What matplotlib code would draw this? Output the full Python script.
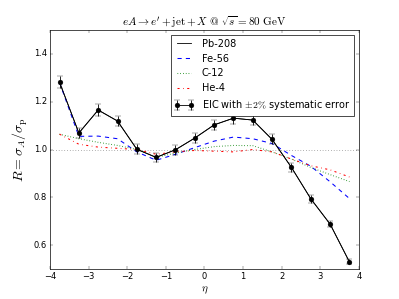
import numpy as np
import matplotlib
matplotlib.use('Agg')
import matplotlib.pyplot as plt

plt.style.use('classic')

# eta bin centres
eta = np.array([-3.75, -3.25, -2.75, -2.25, -1.75, -1.25, -0.75, -0.25,
                0.25, 0.75, 1.25, 1.75, 2.25, 2.75, 3.25, 3.75])

# nuclear modification ratios
pb208 = np.array([1.281, 1.069, 1.165, 1.119, 1.001, 0.967, 0.999, 1.048,
                  1.103, 1.131, 1.123, 1.042, 0.925, 0.794, 0.688, 0.530])
fe56 = np.array([1.28, 1.055, 1.056, 1.045, 0.99, 0.955, 0.98, 1.008,
                 1.035, 1.052, 1.045, 1.025, 0.975, 0.93, 0.865, 0.795])
c12 = np.array([1.064, 1.045, 1.03, 1.017, 1.0, 0.967, 0.985, 1.0,
                1.012, 1.017, 1.016, 0.99, 0.96, 0.925, 0.895, 0.866])
he4 = np.array([1.064, 1.022, 1.01, 1.005, 1.0, 0.98, 0.99, 0.996,
                0.993, 0.99, 1.0, 0.99, 0.96, 0.932, 0.915, 0.885])
sys_err = 0.02

fig = plt.figure(figsize=(7.98, 5.98))
ax = fig.add_subplot(111)

ax.axhline(1.0, color='gray', linestyle=':', linewidth=1.2)
ax.plot(eta, pb208, 'k-', linewidth=1.2, label='Pb-208')
ax.plot(eta, fe56, 'b--', linewidth=1.5, label='Fe-56')
ax.plot(eta, c12, 'g:', linewidth=1.5, label='C-12')
ax.plot(eta, he4, 'r-.', linewidth=1.5, label='He-4')
ax.errorbar(eta, pb208, yerr=sys_err * pb208, fmt='ko-', markersize=7,
            linewidth=1.2, capsize=4, label=r'EIC with $\pm2\%$ systematic error')

ax.set_xlim(-4, 4)
ax.set_ylim(0.5, 1.5)
ax.set_yticks([0.6, 0.8, 1.0, 1.2, 1.4])
ax.set_xlabel(r'$\eta$', fontsize=16)
ax.set_ylabel(r'$R=\sigma_A/\sigma_{\rm p}$', fontsize=20)
ax.set_title(r'$eA\rightarrow e^{\prime}+{\rm jet}+X\ @\ \sqrt{s}=80\ {\rm GeV}$',
             fontsize=16)
ax.legend(loc='upper right', fontsize=14, numpoints=2, handlelength=2.0)

fig.savefig('out.png', dpi=50)
